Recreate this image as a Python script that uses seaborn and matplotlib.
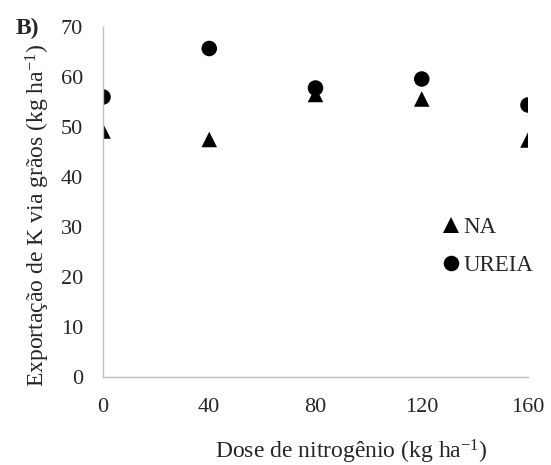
import matplotlib
matplotlib.use("Agg")
import matplotlib.pyplot as plt
import seaborn as sns
import pandas as pd

doses = [0, 40, 80, 120, 160]
na_values = [49.2, 47.5, 56.5, 55.6, 47.4]
ureia_values = [56.0, 65.7, 57.8, 59.6, 54.4]
series_names = ["NA", "UREIA"]
x_ticks = [0, 40, 80, 120, 160]
y_ticks = [0, 10, 20, 30, 40, 50, 60, 70]

df = pd.DataFrame({
    "dose": doses * 2,
    "valor": na_values + ureia_values,
    "serie": [series_names[0]] * len(doses) + [series_names[1]] * len(doses),
})

sns.set_style("white")
plt.rcParams["font.family"] = ["Liberation Serif", "DejaVu Serif"]
plt.rcParams["mathtext.fontset"] = "custom"
plt.rcParams["mathtext.rm"] = "Liberation Serif"
plt.rcParams["mathtext.it"] = "Liberation Serif:italic"

W, H = 551, 465
fig = plt.figure(figsize=(W / 100, H / 100), dpi=100)
ax = fig.add_axes([103 / W, 1 - 377 / H, 425 / W, 350 / H])

sns.scatterplot(data=df, x="dose", y="valor", hue="serie", style="serie",
                palette={"NA": "black", "UREIA": "black"},
                markers={"NA": "^", "UREIA": "o"},
                s=125, edgecolor="none", linewidth=0, ax=ax, legend=True)

ax.set_xlim(0, 160)
ax.set_ylim(0, 70)
ax.set_xticks(x_ticks)
ax.set_yticks(y_ticks)
ax.tick_params(axis="both", labelsize=16, length=0)
ax.tick_params(axis="x", pad=15)
ax.tick_params(axis="y", pad=14.5)
for s in ["top", "right"]:
    ax.spines[s].set_visible(False)
for s in ["left", "bottom"]:
    ax.spines[s].set_color("#bfbfbf")
    ax.spines[s].set_linewidth(1.0)

ax.set_xlabel("")
ax.set_ylabel("")
fig.text(351 / W, 1 - 458 / H, "Dose de nitrogênio (kg ha$^{\\mathrm{-1}}$)",
         fontsize=17, ha="center", va="baseline")
fig.text(38 / W, 1 - 215 / H, "Exportação de K via grãos (kg ha$^{\\mathrm{-1}}$)",
         fontsize=17, ha="center", va="center", rotation=90)

handles, labels = ax.get_legend_handles_labels()
leg = ax.legend(handles, labels, loc="center left",
                bbox_to_anchor=(442.5 / W, 1 - 246.5 / H),
                bbox_transform=fig.transFigure,
                frameon=False, fontsize=16.5, handlelength=0.7,
                handletextpad=0.2, labelspacing=0.75,
                borderpad=0, borderaxespad=0)

fig.text(27 / W, 1 - 28 / H, "B)", fontsize=17, fontweight="bold",
         ha="center", va="center")

fig.savefig("out.png", dpi=100)
